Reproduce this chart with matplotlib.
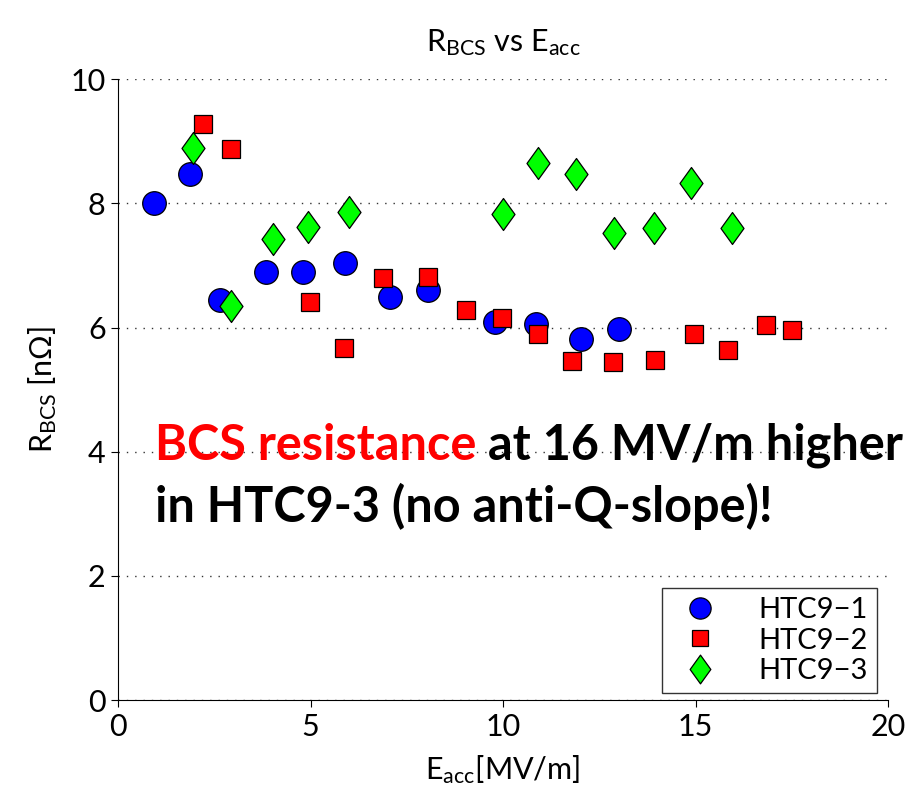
import matplotlib
matplotlib.use("Agg")
import matplotlib.pyplot as plt
from matplotlib.path import Path

plt.rcParams.update({"font.family": ["Lato", "DejaVu Sans"], "font.size": 21,
                     "mathtext.default": "regular"})

# HTC9-1
e1 = [0.93, 1.87, 2.65, 3.84, 4.80, 5.90, 7.06, 8.05, 9.80, 10.86, 12.03, 13.00]
r1 = [8.00, 8.47, 6.44, 6.89, 6.89, 7.04, 6.50, 6.60, 6.09, 6.05, 5.81, 5.97]
# HTC9-2
e2 = [2.20, 2.93, 4.99, 5.87, 6.88, 8.05, 9.04, 9.97, 10.90, 11.80, 12.86,
      13.95, 14.96, 15.84, 16.83, 17.50]
r2 = [9.28, 8.87, 6.41, 5.67, 6.80, 6.81, 6.28, 6.15, 5.89, 5.46, 5.44,
      5.47, 5.89, 5.64, 6.04, 5.96]
# HTC9-3
e3 = [1.95, 2.93, 4.03, 4.94, 6.00, 10.00, 10.90, 11.90, 12.88, 13.92, 14.88, 15.95]
r3 = [8.89, 6.34, 7.42, 7.62, 7.86, 7.83, 8.65, 8.47, 7.52, 7.60, 8.33, 7.60]

labels = ["HTC9\u22121", "HTC9\u22122", "HTC9\u22123"]

# narrow diamond marker
diamond = Path([(0, 1), (0.72, 0), (0, -1), (-0.72, 0), (0, 1)],
               [Path.MOVETO, Path.LINETO, Path.LINETO, Path.LINETO, Path.CLOSEPOLY])

fig = plt.figure(figsize=(9.09, 7.92), dpi=100)
ax = fig.add_axes([0.130, 0.116, 0.847, 0.784])

ax.plot(e1, r1, "o", ms=17, mfc="#0000ff", mec="black", mew=0.9, label=labels[0], zorder=3)
ax.plot(e2, r2, "s", ms=13.5, mfc="#ff0000", mec="black", mew=0.9, label=labels[1], zorder=4)
ax.plot(e3, r3, marker=diamond, ls="none", ms=23, mfc="#00ff00", mec="black", mew=0.9,
        label=labels[2], zorder=3)

ax.set_xlim(0, 20)
ax.set_ylim(0, 10)
ax.set_xticks([0, 5, 10, 15, 20])
ax.set_yticks([0, 2, 4, 6, 8, 10])
ax.grid(axis="y", ls=(0, (1, 5)), color="#333333", lw=1.0, zorder=0)
for s in ("top", "right"):
    ax.spines[s].set_visible(False)
ax.tick_params(direction="out", length=5, width=0.8, labelsize=22, pad=4)

ax.set_title("R$_{BCS}$ vs E$_{acc}$", fontsize=22, pad=20)
ax.set_ylabel("R$_{BCS}$ [n\u03a9]", fontsize=22, labelpad=8)
ax.set_xlabel("E$_{acc}$[MV/m]", fontsize=22, labelpad=9)

ax.legend(loc="lower right", bbox_to_anchor=(0.985, 0.012), fontsize=21, frameon=True,
          fancybox=False, edgecolor="black", handletextpad=1.0, borderpad=0.3,
          labelspacing=0.15, markerscale=0.9, borderaxespad=0)

t1 = fig.text(155 / 909, 1 - 460 / 792, "BCS resistance", color="#ff0000",
              fontsize=35, fontweight="bold")
ax.annotate(" at 16 MV/m higher", xy=(1, 0), xycoords=t1, va="bottom", ha="left",
            fontsize=35, fontweight="bold", color="black")
fig.text(155 / 909, 1 - 522 / 792, "in HTC9-3 (no anti-Q-slope)!", color="black",
         fontsize=35, fontweight="bold")

fig.savefig("out.png", dpi=100)
